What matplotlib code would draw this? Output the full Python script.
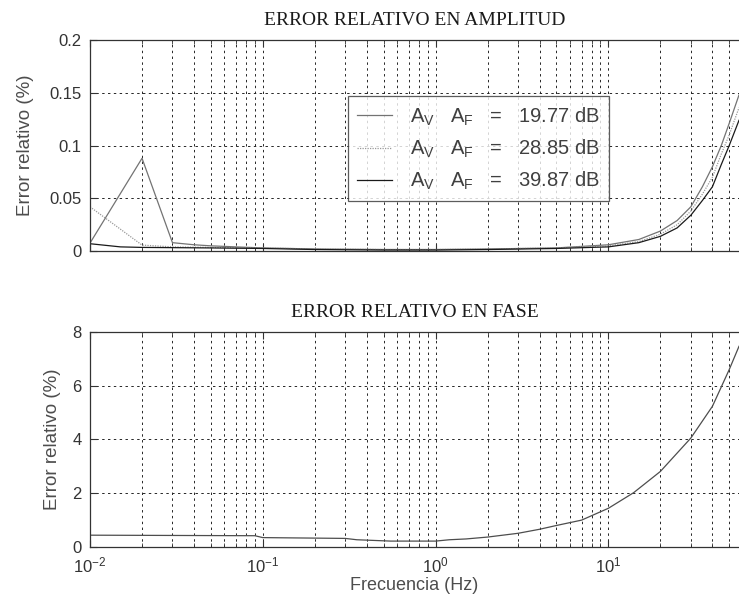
import numpy as np
import matplotlib
matplotlib.use('Agg')
import matplotlib.pyplot as plt
from matplotlib.ticker import LogLocator, NullFormatter

plt.rcParams['font.family'] = ['Liberation Sans', 'DejaVu Sans']
plt.rcParams['mathtext.fontset'] = 'custom'
plt.rcParams['mathtext.rm'] = 'Liberation Sans'
plt.rcParams['mathtext.it'] = 'Liberation Sans'
plt.rcParams['mathtext.sf'] = 'Liberation Sans'

# Error relativo en amplitud, una curva por ganancia
f_19 = [0.01, 0.02, 0.03, 0.04, 0.05, 0.07, 0.1, 0.2, 0.5, 1, 2, 5, 10, 15, 20, 25, 30, 35, 40, 45, 50, 57]
e_19 = [0.0076, 0.088, 0.008, 0.006, 0.005, 0.004, 0.003, 0.002, 0.0015, 0.0015, 0.002, 0.003,
        0.006, 0.011, 0.019, 0.029, 0.042, 0.061, 0.080, 0.100, 0.121, 0.148]

f_28 = [0.01, 0.02, 0.03, 0.05, 0.1, 0.2, 0.5, 1, 2, 5, 10, 15, 20, 25, 30, 35, 40, 45, 50, 57]
e_28 = [0.042, 0.0057, 0.004, 0.0035, 0.003, 0.002, 0.0015, 0.0015, 0.002, 0.003,
        0.005, 0.009, 0.016, 0.025, 0.038, 0.054, 0.070, 0.092, 0.110, 0.136]

f_39 = [0.01, 0.015, 0.02, 0.05, 0.1, 0.2, 0.5, 1, 2, 5, 10, 15, 20, 25, 30, 35, 40, 45, 50, 57]
e_39 = [0.007, 0.004, 0.0035, 0.003, 0.0025, 0.0015, 0.001, 0.001, 0.0015, 0.0025,
        0.004, 0.008, 0.014, 0.022, 0.034, 0.048, 0.061, 0.082, 0.100, 0.124]

ganancias = ['19.77', '28.85', '39.87']

# Error relativo en fase
f_fase = [0.01, 0.09, 0.1, 0.3, 0.35, 0.55, 1.0, 1.2, 1.5, 2, 3, 4, 5, 7, 10, 14, 20, 30, 40, 50, 57]
e_fase = [0.44, 0.42, 0.35, 0.32, 0.27, 0.22, 0.22, 0.27, 0.30, 0.37, 0.51, 0.66, 0.80, 1.0,
          1.44, 2.02, 2.81, 4.05, 5.23, 6.59, 7.46]

xmin, xmax = 0.01, 57

fig = plt.figure(figsize=(7.39, 6.08), dpi=100)
ax1 = fig.add_axes([0.1218, 0.587, 0.8782, 0.347])
ax2 = fig.add_axes([0.1218, 0.1003, 0.8782, 0.354])

grid_kw = dict(color='0.15', linestyle=(0, (2.5, 3.5)), linewidth=0.7)


def preparar_eje(ax, pad_y):
    ax.set_xscale('log')
    ax.set_xlim(xmin, xmax)
    ax.xaxis.set_minor_locator(LogLocator(base=10, subs=np.arange(2, 10), numticks=20))
    ax.xaxis.set_minor_formatter(NullFormatter())
    ax.grid(True, which='major', **grid_kw)
    ax.grid(True, which='minor', axis='x', **grid_kw)
    ax.tick_params(which='both', direction='in', labelsize=12, colors='0.2', top=True)
    ax.tick_params(which='major', length=5, pad=6)
    ax.tick_params(which='minor', length=3)
    ax.spines['right'].set_visible(False)
    for s in ['top', 'left', 'bottom']:
        ax.spines[s].set_linewidth(0.9)
        ax.spines[s].set_color('0.2')
    ax.set_ylabel('Error relativo (%)', fontsize=13.5, color='0.3', labelpad=pad_y)


# Amplitud
preparar_eje(ax1, 11)
l1, = ax1.plot(f_19, e_19, color='0.45', linewidth=0.9)
l2, = ax1.plot(f_28, e_28, color='0.6', linewidth=0.9, linestyle=(0, (1, 1)))
l3, = ax1.plot(f_39, e_39, color='0.1', linewidth=0.9)
ax1.set_ylim(0, 0.2)
ax1.set_yticks([0, 0.05, 0.1, 0.15, 0.2])
ax1.set_yticklabels(['0', '0.05', '0.1', '0.15', '0.2'])
ax1.xaxis.set_major_formatter(NullFormatter())
ax1.set_title('ERROR RELATIVO EN AMPLITUD', family='Liberation Serif', fontsize=14,
              color='0.1', pad=11)

etiquetas = [r'$\mathrm{A_V\ \ \ A_F}$   =   ' + g + ' dB' for g in ganancias]
leg = ax1.legend([l1, l2, l3], etiquetas, loc='center', bbox_to_anchor=(0.5985, 0.485),
                 fontsize=14.5, frameon=True, fancybox=False, handlelength=1.7,
                 borderpad=0.45, labelspacing=0.5, handletextpad=0.9, borderaxespad=0)
leg.get_frame().set_edgecolor('0.2')
leg.get_frame().set_linewidth(0.9)
for t in leg.get_texts():
    t.set_color('0.25')

# Fase
preparar_eje(ax2, 8)
ax2.plot(f_fase, e_fase, color='0.3', linewidth=0.9)
ax2.set_ylim(0, 8)
ax2.set_yticks([0, 2, 4, 6, 8])
ax2.set_title('ERROR RELATIVO EN FASE', family='Liberation Serif', fontsize=14,
              color='0.1', pad=11)
ax2.set_xlabel('Frecuencia (Hz)', fontsize=13, color='0.3', labelpad=1)

fig.savefig('out.png', dpi=100)
